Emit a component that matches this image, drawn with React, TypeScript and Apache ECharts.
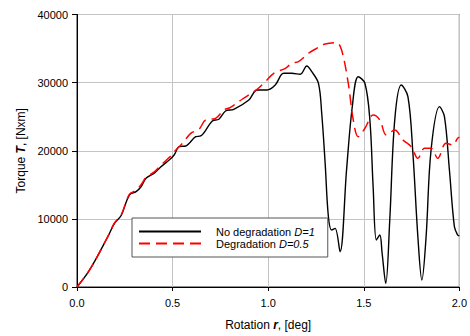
import React, { useEffect, useRef } from "react";
import * as echarts from "echarts";

const xTicks = [0, 0.5, 1.0, 1.5, 2.0];
const yTicks = [0, 10000, 20000, 30000, 40000];

const noDegRotation = [0, 0.066, 0.161, 0.196, 0.231, 0.274, 0.309, 0.335, 0.361, 0.404, 0.439, 0.482, 0.508, 0.534, 0.569, 0.621, 0.647, 0.708, 0.742, 0.777, 0.82, 0.899, 0.942, 0.994, 1.037, 1.081, 1.124, 1.168, 1.202, 1.228, 1.263, 1.28, 1.298, 1.315, 1.332, 1.35, 1.376, 1.41, 1.44, 1.471, 1.506, 1.532, 1.549, 1.566, 1.584, 1.596, 1.615, 1.636, 1.662, 1.696, 1.731, 1.757, 1.783, 1.804, 1.826, 1.852, 1.896, 1.922, 1.948, 1.974, 1.991, 2.0];
const noDegTorque = [0, 2500, 7380, 9350, 10500, 13500, 14000, 14720, 15950, 16690, 17660, 18640, 19380, 20600, 20700, 22060, 22170, 24370, 24620, 25840, 26090, 27450, 28920, 28920, 29650, 31370, 31370, 31220, 32440, 31610, 29900, 25500, 18160, 10320, 8370, 8610, 5180, 17180, 26500, 30870, 29900, 24520, 14720, 6900, 7630, 4950, 540, 9840, 24520, 29650, 27940, 19630, 7380, 1030, 7380, 20110, 26470, 25000, 17180, 8850, 7630, 7500];

const degRotation = [0, 0.066, 0.161, 0.196, 0.231, 0.274, 0.309, 0.335, 0.361, 0.404, 0.439, 0.482, 0.517, 0.552, 0.595, 0.638, 0.673, 0.725, 0.768, 0.803, 0.864, 0.942, 0.985, 1.029, 1.09, 1.124, 1.159, 1.211, 1.254, 1.298, 1.358, 1.384, 1.419, 1.445, 1.471, 1.506, 1.549, 1.584, 1.618, 1.662, 1.705, 1.748, 1.783, 1.818, 1.852, 1.887, 1.93, 1.965, 1.991, 2.0];
const degTorque = [0, 2500, 7400, 9400, 10600, 13600, 14200, 15000, 16100, 16900, 17900, 19000, 20110, 21100, 22560, 23150, 24520, 24760, 25980, 26380, 27560, 29020, 30140, 31370, 32100, 32840, 33070, 34310, 35040, 35670, 35860, 34790, 29900, 24520, 22060, 23300, 25250, 24520, 22310, 23050, 21580, 20600, 18890, 20360, 20360, 18890, 21100, 20850, 21830, 22000];

const seriesNames = ["No degradation D=1", "Degradation D=0.5"];

export default function App() {
  const ref = useRef<HTMLDivElement>(null);
  useEffect(() => {
    if (!ref.current) return;
    const chart = echarts.init(ref.current, null, { renderer: "svg" });
    const font = "'Liberation Sans', Arial, sans-serif";
    chart.setOption({
      animation: false,
      textStyle: { fontFamily: font },
      grid: {
        left: 77,
        right: 9,
        top: 14.5,
        bottom: 49,
        show: true,
        borderColor: "#222",
        borderWidth: 1,
      },
      legend: {
        orient: "vertical",
        left: 132,
        top: 218,
        backgroundColor: "#fff",
        borderColor: "#555",
        borderWidth: 1,
        borderRadius: 0,
        padding: [8, 13, 8, 6],
        itemWidth: 62,
        itemHeight: 10,
        itemGap: 1,
        itemStyle: { opacity: 0, borderWidth: 0 },
        data: seriesNames,
        formatter: (name: string) => {
          const parts = name.split(" D=");
          return "{n|" + parts[0] + " }{i|D=" + parts[1] + "}";
        },
        textStyle: {
          fontFamily: font,
          fontSize: 11,
          color: "#000",
          padding: [0, 0, 0, 10],
          rich: {
            n: { fontFamily: font, fontSize: 11, color: "#000" },
            i: { fontFamily: font, fontSize: 11, color: "#000", fontStyle: "italic" },
          },
        },
      },
      xAxis: {
        type: "value",
        min: xTicks[0],
        max: xTicks[xTicks.length - 1],
        interval: 0.5,
        name: "{a|Rotation }{b|r}{a|, [deg]}",
        nameLocation: "middle",
        nameGap: 32,
        nameTextStyle: {
          rich: {
            a: { fontFamily: font, fontSize: 12, color: "#000" },
            b: { fontFamily: font, fontSize: 12, color: "#000", fontWeight: "bold", fontStyle: "italic" },
          },
        },
        axisLine: { show: true, onZero: false, lineStyle: { color: "#000", width: 1 } },
        axisTick: { show: true, inside: false, length: 4, lineStyle: { color: "#000" } },
        axisLabel: {
          margin: 10,
          fontSize: 11,
          color: "#000",
          fontFamily: font,
          formatter: (v: number) => v.toFixed(1),
        },
        splitLine: { show: true, lineStyle: { color: "#c4c4c4", width: 1 } },
      },
      yAxis: {
        type: "value",
        min: yTicks[0],
        max: yTicks[yTicks.length - 1],
        interval: 10000,
        name: "{a|Torque }{b|T}{a|, [Nxm]}",
        nameLocation: "middle",
        nameGap: 46,
        nameTextStyle: {
          rich: {
            a: { fontFamily: font, fontSize: 12, color: "#000" },
            b: { fontFamily: font, fontSize: 12, color: "#000", fontWeight: "bold", fontStyle: "italic" },
          },
        },
        axisLine: { show: true, lineStyle: { color: "#000", width: 1 } },
        axisTick: { show: true, inside: false, length: 5, lineStyle: { color: "#000" } },
        axisLabel: {
          margin: 9,
          fontSize: 11,
          color: "#000",
          fontFamily: font,
          formatter: (v: number) => String(v),
        },
        splitLine: { show: true, lineStyle: { color: "#c4c4c4", width: 1 } },
      },
      series: [
        {
          name: seriesNames[0],
          type: "line",
          data: noDegRotation.map((r, i) => [r, noDegTorque[i]]),
          symbol: "none",
          smooth: 0.35,
          lineStyle: { color: "#000", width: 1.4 },
          itemStyle: { color: "#000" },
          z: 3,
        },
        {
          name: seriesNames[1],
          type: "line",
          data: degRotation.map((r, i) => [r, degTorque[i]]),
          symbol: "none",
          smooth: 0.35,
          lineStyle: { color: "#ff0000", width: 1.5, type: [11, 6] },
          itemStyle: { color: "#ff0000" },
          z: 4,
        },
      ],
    });
    return () => chart.dispose();
  }, []);
  return <div ref={ref} style={{ width: 470, height: 336, position: "absolute", left: 0, top: 0 }} />;
}
